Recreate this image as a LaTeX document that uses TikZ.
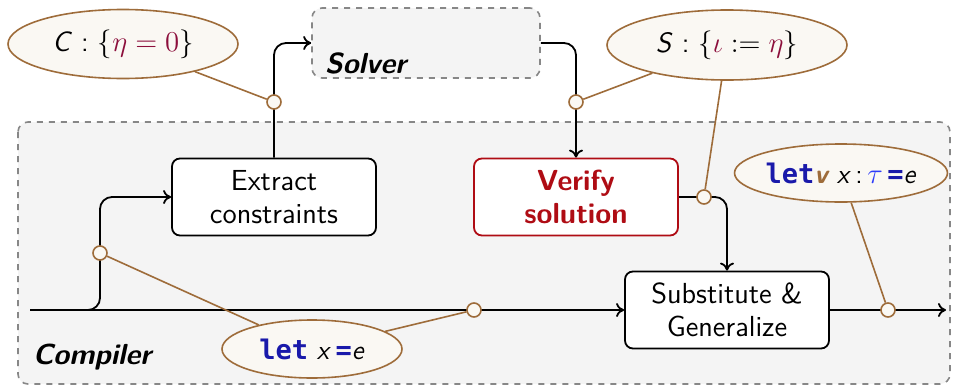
\documentclass[tikz,border=0pt]{standalone}
\usepackage{fontspec}
\newfontfamily\codefont{DejaVu Sans Mono}
\renewcommand{\familydefault}{\sfdefault}
\usetikzlibrary{shapes.geometric, backgrounds, arrows.meta}

\definecolor{notebrown}{RGB}{158,108,58}
\definecolor{notefill}{RGB}{250,248,243}
\definecolor{verifyred}{RGB}{175,12,20}
\definecolor{holered}{RGB}{140,15,60}
\definecolor{kwblue}{RGB}{25,25,170}
\definecolor{tyblue}{RGB}{45,60,250}
\definecolor{zonefill}{RGB}{244,244,244}
\definecolor{zonedash}{RGB}{135,135,135}

\newcommand{\kw}[1]{{\codefont\bfseries\color{kwblue}#1}}

\begin{document}
\begin{tikzpicture}[
  x=0.5pt, y=-0.5pt,
  stage/.style={draw, rounded corners=4pt, line width=0.9pt, fill=white,
                minimum width=102pt, minimum height=38.5pt, align=center,
                font=\fontsize{14.5}{16.5}\selectfont},
  verifybox/.style={stage, draw=verifyred, text=verifyred,
                    font=\fontsize{14.5}{16.5}\selectfont\bfseries},
  zone/.style={draw=zonedash, dashed, line width=0.8pt, rounded corners=5pt, fill=zonefill},
  zonelbl/.style={font=\fontsize{14.5}{16}\selectfont\bfseries\itshape, anchor=west},
  note/.style={ellipse, draw=notebrown, fill=notefill, line width=0.8pt, inner sep=0pt},
  tap/.style={circle, draw=notebrown, fill=notefill, line width=0.8pt,
              minimum size=7pt, inner sep=0pt},
  arr/.style={-{Computer Modern Rightarrow[length=4pt,width=7pt]}, line width=0.9pt},
  link/.style={draw=notebrown, line width=0.8pt},
]
\useasboundingbox (0,0) rectangle (954,386);

% === Pipeline stages ===
\node[zone, minimum width=114pt, minimum height=35pt] (solver) at (426,43) {};
\node[zonelbl] at (318,63) {Solver};
\node[stage] (extract) at (274,197) {Extract\\constraints};
\node[verifybox] (verify) at (576,197) {Verify\\solution};
\node[stage] (subst) at (727,310) {Substitute \&\\Generalize};

\coordinate (in) at (30,310);
\coordinate (out) at (946,310);

% === Annotations ===
\node[note, minimum width=115pt, minimum height=34.5pt, font=\fontsize{14}{16}\selectfont]
  (cons) at (123,44) {\textit{C} : $\{{\color{holered}\eta = 0}\}$};
\node[note, minimum width=120pt, minimum height=35pt, font=\fontsize{14}{16}\selectfont]
  (sol) at (727,45) {\textit{S} : $\{{\color{holered}\iota} \mathrel{:=} {\color{holered}\eta}\}$};
\node[note, minimum width=90pt, minimum height=29pt, font=\fontsize{13.5}{15}\selectfont]
  (letin) at (312,349) {\kw{let} \textit{x}\,\kw{=}\textit{e}};
\node[note, minimum width=105pt, minimum height=29pt, font=\fontsize{13.5}{15}\selectfont]
  (letout) at (841,173)
  {\kw{let}{\color{notebrown}\bfseries\itshape v}\ \textit{x}\,:\,${\color{tyblue}\tau}$\,\kw{=}\textit{e}};

% === Taps on the data flow ===
\node[tap] (t1) at (100,253) {};
\node[tap] (t2) at (474,310) {};
\node[tap] (t3) at (274,102) {};
\node[tap] (t4) at (576,102) {};
\node[tap] (t5) at (704,197) {};
\node[tap] (t6) at (888,310) {};

\begin{pgfonlayer}{background}
  % Compiler region
  \draw[zone] (18,122) rectangle (950,384);
  \node[zonelbl] (complbl) at (26,357) {Compiler};

  % Data flow
  \draw[arr] (in) -- (subst.west);
  \draw[arr, rounded corners=6pt] (in) -| (t1.center) |- (extract.west);
  \draw[arr, rounded corners=6pt] (extract.north) |- (solver.west);
  \draw[arr, rounded corners=6pt] (solver.east) -| (verify.north);
  \draw[arr, rounded corners=6pt] (verify.east) -| (subst.north);
  \draw[arr] (subst.east) -- (out);

  % Annotation links
  \draw[link] (cons) -- (t3);
  \draw[link] (sol) -- (t4);
  \draw[link] (sol) -- (t5);
  \draw[link] (letin) -- (t1);
  \draw[link] (letin) -- (t2);
  \draw[link] (letout) -- (t6);
\end{pgfonlayer}

\end{tikzpicture}
\end{document}
